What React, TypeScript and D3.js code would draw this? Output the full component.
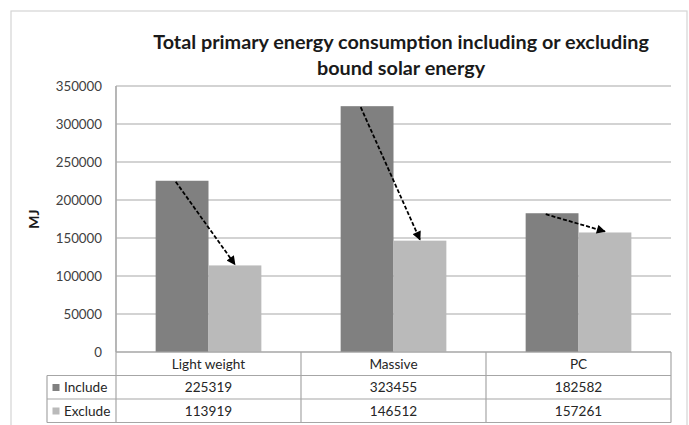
import React from "react";
import * as d3 from "d3";

const categories = ["Light weight", "Massive", "PC"];
const seriesNames = ["Include", "Exclude"];
const includeValues = [225319, 323455, 182582];
const excludeValues = [113919, 146512, 157261];
const yTicks = [0, 50000, 100000, 150000, 200000, 250000, 300000, 350000];
const titleLines = [
  "Total primary energy consumption including or excluding",
  "bound solar energy",
];
const yLabel = "MJ";

const W = 689;
const H = 425;
const plotLeft = 116;
const plotRight = 671;
const plotTop = 86;
const plotBottom = 352;
const rowH = 23.5;
const legendLeft = 47;
const colors = ["#808080", "#bababa"];
const font = "Lato, 'Open Sans', sans-serif";

export default function App() {
  const x = d3.scaleBand<string>().domain(categories).range([plotLeft, plotRight]);
  const y = d3.scaleLinear().domain([0, 350000]).range([plotBottom, plotTop]);
  const bw = x.bandwidth() / 3.5;
  const series = [includeValues, excludeValues];
  const barX = (ci: number, si: number) =>
    (x(categories[ci]) as number) + x.bandwidth() / 2 - bw + si * bw;

  const rows = [plotBottom, plotBottom + rowH, plotBottom + 2 * rowH, plotBottom + 3 * rowH];
  const colEdges = categories.map((c) => x(c) as number).concat([plotRight]);

  return (
    <svg
      width={W}
      height={H}
      style={{ position: "absolute", left: 0, top: 0, background: "#fff" }}
      fontFamily={font}
    >
      <defs>
        <marker id="ah" viewBox="0 0 10 10" refX="9" refY="5" markerWidth="5.5" markerHeight="5" orient="auto">
          <path d="M0,0 L10,5 L0,10 z" fill="#000" />
        </marker>
      </defs>
      {/* outer frame */}
      <rect x={11} y={11} width={676} height={430} fill="none" stroke="#d4d4d4" strokeWidth={1.2} />

      {/* title */}
      {titleLines.map((t, i) => (
        <text key={i} x={401} y={49 + i * 26} textAnchor="middle" fontSize={19.8} fontWeight="bold" fill="#1a1a1a">
          {t}
        </text>
      ))}

      {/* gridlines */}
      {yTicks.map((t) => (
        <line key={t} x1={plotLeft} x2={plotRight} y1={y(t)} y2={y(t)} stroke="#c4c4c4" strokeWidth={1.3} />
      ))}
      <line x1={plotLeft} x2={plotLeft} y1={plotTop} y2={plotBottom} stroke="#b0b0b0" strokeWidth={1.2} />

      {/* tick labels */}
      {yTicks.map((t) => (
        <text key={t} x={102} y={y(t) + 4.5} textAnchor="end" fontSize={13.3} fill="#404040">
          {t}
        </text>
      ))}
      <text
        transform={`translate(39,${(plotTop + plotBottom) / 2}) rotate(-90)`}
        textAnchor="middle"
        fontSize={14}
        fontWeight="bold"
        fill="#1a1a1a"
      >
        {yLabel}
      </text>

      {/* bars */}
      {series.map((vals, si) =>
        vals.map((v, ci) => (
          <rect
            key={`${si}-${ci}`}
            x={barX(ci, si)}
            y={y(v)}
            width={bw}
            height={plotBottom - y(v)}
            fill={colors[si]}
          />
        ))
      )}

      {/* arrows */}
      {categories.map((c, ci) => (
        <line
          key={c}
          x1={barX(ci, 0) + bw * 0.38}
          y1={y(includeValues[ci]) + 1}
          x2={barX(ci, 1) + bw / 2}
          y2={y(excludeValues[ci]) - 1}
          stroke="#000"
          strokeWidth={1.8}
          strokeDasharray="4 2"
          markerEnd="url(#ah)"
        />
      ))}

      {/* data table */}
      <g stroke="#a6a6a6" strokeWidth={1.2}>
        <line x1={plotLeft} x2={plotRight} y1={rows[0]} y2={rows[0]} />
        <line x1={legendLeft} x2={plotRight} y1={rows[1]} y2={rows[1]} />
        <line x1={legendLeft} x2={plotRight} y1={rows[2]} y2={rows[2]} />
        <line x1={legendLeft} x2={plotRight} y1={rows[3]} y2={rows[3]} />
        <line x1={legendLeft} x2={legendLeft} y1={rows[1]} y2={rows[3]} />
        {colEdges.map((e, i) => (
          <line key={i} x1={e} x2={e} y1={i === 0 ? plotTop : rows[0]} y2={rows[3]} />
        ))}
      </g>
      {categories.map((c) => (
        <text key={c} x={(x(c) as number) + x.bandwidth() / 2} y={rows[0] + 16.5} textAnchor="middle" fontSize={13.6} fill="#262626">
          {c}
        </text>
      ))}
      {series.map((vals, si) => (
        <g key={si}>
          <rect x={52.5} y={rows[si + 1] + 8.5} width={7} height={7} fill={colors[si]} />
          <text x={64} y={rows[si + 1] + 16.5} fontSize={13.6} fill="#262626">
            {seriesNames[si]}
          </text>
          {vals.map((v, ci) => (
            <text
              key={ci}
              x={(x(categories[ci]) as number) + x.bandwidth() / 2}
              y={rows[si + 1] + 16.5}
              textAnchor="middle"
              fontSize={13.6}
              fill="#262626"
            >
              {v}
            </text>
          ))}
        </g>
      ))}
    </svg>
  );
}
